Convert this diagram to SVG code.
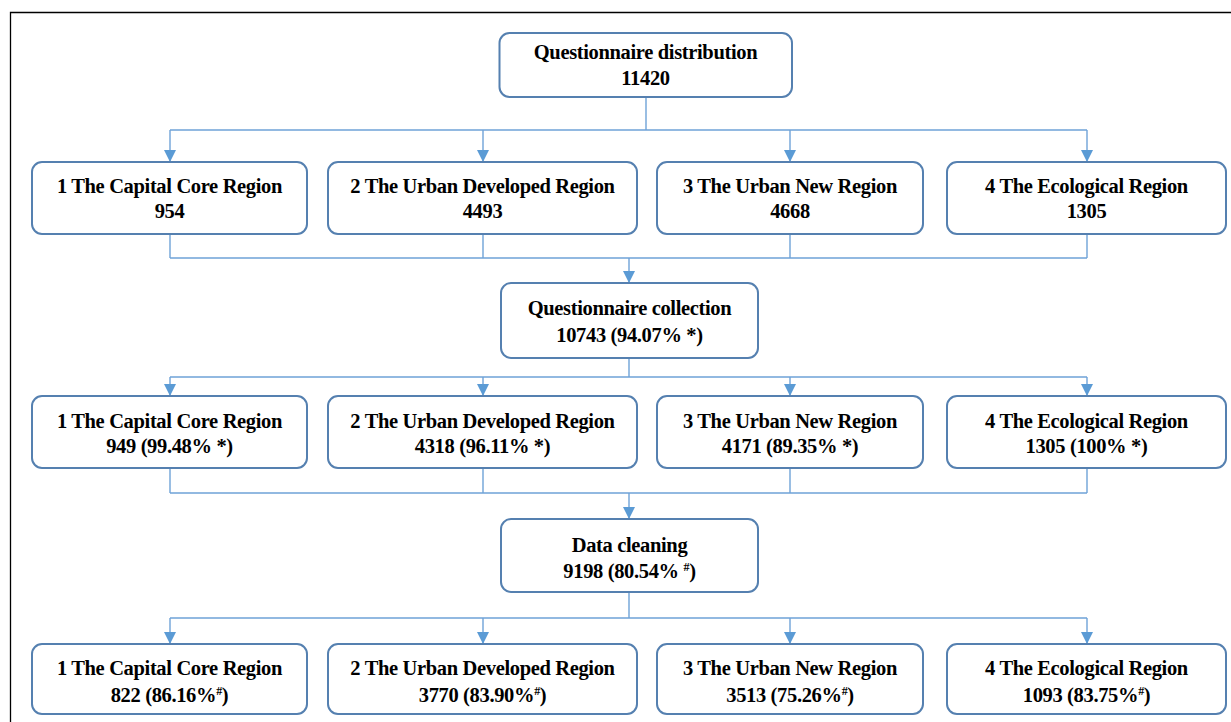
<svg xmlns="http://www.w3.org/2000/svg" width="1231" height="722" viewBox="0 0 1231 722">
<defs>
<style>
.box{fill:#fff;stroke:#5580b0;stroke-width:2}
.ln{fill:none;stroke:#6fa3d8;stroke-width:1.4}
text{font-family:"Liberation Serif","Times New Roman",serif;font-weight:bold;font-size:20.5px;fill:#000;text-anchor:middle;letter-spacing:-0.35px}
.sup{font-size:12px}
</style>
<marker id="ad" markerUnits="userSpaceOnUse" markerWidth="14" markerHeight="12" refX="6" refY="12" orient="0" viewBox="0 0 12 12">
<path d="M0,0 L12,0 L6,12 Z" fill="#5b9bd5"/>
</marker>
</defs>
<rect width="1231" height="722" fill="#fff"/>
<path d="M1231,12.5 H10.5 V722" fill="none" stroke="#000" stroke-width="1.3"/>

<g id="connectors">
<path class="ln" d="M646,97 V130 M170,130 H1087"/>
<path class="ln" d="M170,130 V162" marker-end="url(#ad)"/>
<path class="ln" d="M483,130 V162" marker-end="url(#ad)"/>
<path class="ln" d="M790,130 V162" marker-end="url(#ad)"/>
<path class="ln" d="M1087,130 V162" marker-end="url(#ad)"/>
<path class="ln" d="M170,234 V258 M483,234 V258 M790,234 V258 M1087,234 V258 M170,258 H1087"/>
<path class="ln" d="M629,258 V283" marker-end="url(#ad)"/>
<path class="ln" d="M629,358 V377 M170,377 H1087"/>
<path class="ln" d="M170,377 V396" marker-end="url(#ad)"/>
<path class="ln" d="M483,377 V396" marker-end="url(#ad)"/>
<path class="ln" d="M790,377 V396" marker-end="url(#ad)"/>
<path class="ln" d="M1087,377 V396" marker-end="url(#ad)"/>
<path class="ln" d="M170,468 V493 M483,468 V493 M790,468 V493 M1087,468 V493 M170,493 H1087"/>
<path class="ln" d="M629,493 V519" marker-end="url(#ad)"/>
<path class="ln" d="M629,592 V618 M170,618 H1087"/>
<path class="ln" d="M170,618 V644" marker-end="url(#ad)"/>
<path class="ln" d="M483,618 V644" marker-end="url(#ad)"/>
<path class="ln" d="M790,618 V644" marker-end="url(#ad)"/>
<path class="ln" d="M1087,618 V644" marker-end="url(#ad)"/>
</g>

<g id="distribution">
<rect class="box" x="499.5" y="33" width="292.5" height="64" rx="10"/>
<text x="645.5" y="59">Questionnaire distribution</text>
<text x="645.5" y="85">11420</text>
</g>

<g id="r1-1"><rect class="box" x="32" y="162" width="275" height="72" rx="10"/>
<text x="169.5" y="193">1 The Capital Core Region</text><text x="169.5" y="218">954</text></g>
<g id="r1-2"><rect class="box" x="328" y="162" width="309" height="72" rx="10"/>
<text x="482.5" y="193">2 The Urban Developed Region</text><text x="482.5" y="218">4493</text></g>
<g id="r1-3"><rect class="box" x="657" y="162" width="266" height="72" rx="10"/>
<text x="790" y="193">3 The Urban New Region</text><text x="790" y="218">4668</text></g>
<g id="r1-4"><rect class="box" x="947" y="162" width="279" height="72" rx="10"/>
<text x="1086.5" y="193">4 The Ecological Region</text><text x="1086.5" y="218">1305</text></g>

<g id="collection">
<rect class="box" x="501" y="283" width="257" height="75" rx="10"/>
<text x="629.5" y="315">Questionnaire collection</text>
<text x="629.5" y="342">10743 (94.07% *)</text>
</g>

<g id="r2-1"><rect class="box" x="32" y="396" width="275" height="72" rx="10"/>
<text x="169.5" y="428">1 The Capital Core Region</text><text x="169.5" y="453">949 (99.48% *)</text></g>
<g id="r2-2"><rect class="box" x="328" y="396" width="309" height="72" rx="10"/>
<text x="482.5" y="428">2 The Urban Developed Region</text><text x="482.5" y="453">4318 (96.11% *)</text></g>
<g id="r2-3"><rect class="box" x="657" y="396" width="266" height="72" rx="10"/>
<text x="790" y="428">3 The Urban New Region</text><text x="790" y="453">4171 (89.35% *)</text></g>
<g id="r2-4"><rect class="box" x="947" y="396" width="279" height="72" rx="10"/>
<text x="1086.5" y="428">4 The Ecological Region</text><text x="1086.5" y="453">1305 (100% *)</text></g>

<g id="cleaning">
<rect class="box" x="501" y="519" width="257" height="73" rx="10"/>
<text x="629.5" y="552">Data cleaning</text>
<text x="629.5" y="578">9198 (80.54% <tspan class="sup" dy="-7">#</tspan><tspan dy="7">)</tspan></text>
</g>

<g id="r3-1"><rect class="box" x="32" y="644" width="275" height="70" rx="10"/>
<text x="169.5" y="675">1 The Capital Core Region</text><text x="169.5" y="702">822 (86.16%<tspan class="sup" dy="-7">#</tspan><tspan dy="7">)</tspan></text></g>
<g id="r3-2"><rect class="box" x="328" y="644" width="309" height="70" rx="10"/>
<text x="482.5" y="675">2 The Urban Developed Region</text><text x="482.5" y="702">3770 (83.90%<tspan class="sup" dy="-7">#</tspan><tspan dy="7">)</tspan></text></g>
<g id="r3-3"><rect class="box" x="657" y="644" width="266" height="70" rx="10"/>
<text x="790" y="675">3 The Urban New Region</text><text x="790" y="702">3513 (75.26%<tspan class="sup" dy="-7">#</tspan><tspan dy="7">)</tspan></text></g>
<g id="r3-4"><rect class="box" x="947" y="644" width="279" height="70" rx="10"/>
<text x="1086.5" y="675">4 The Ecological Region</text><text x="1086.5" y="702">1093 (83.75%<tspan class="sup" dy="-7">#</tspan><tspan dy="7">)</tspan></text></g>
</svg>
